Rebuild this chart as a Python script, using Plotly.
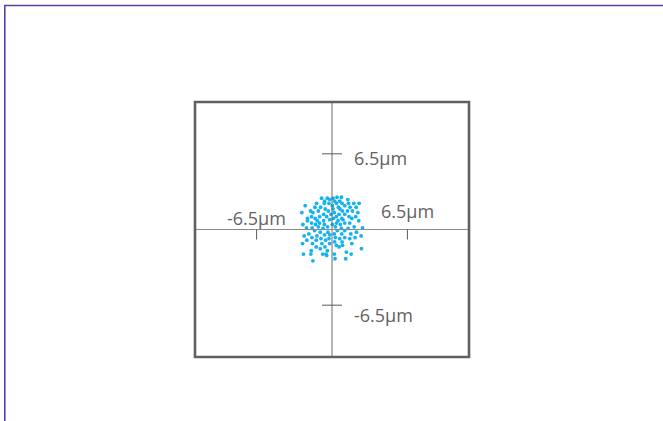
import plotly.graph_objects as go

# Spot diagram data (micrometres)
spot_x = [0.43, 0.81,
          -0.90, -0.40, 0.09,
          -0.20, 1.36,
          -0.64, 0.23, 0.66,
          -1.33, -0.66, -0.26, 0.38, 0.87, 1.42, 1.88, 2.34,
          -2.31, 0.03, 1.10,
          -1.47, -0.98, 0.55, 1.56, 2.08,
          -0.58, 0.09, 0.69,
          -1.85, -1.18, -0.32, 0.90, 1.33, 1.76,
          -2.60, -1.65, 0.20, 2.23,
          -0.72, -0.09, 0.61, 1.10,
          -1.76, -1.07, -0.46, 0.38, 1.47, 2.05,
          -2.11, -1.45, 0.12, 0.84, 1.71,
          -0.20, 0.95,
          -2.11, -1.27, -0.72, 0.52, 2.31,
          -1.76, -1.07, 0.38, 1.10, 1.53,
          -2.51, -1.42, -0.66, 0.03, 0.72,
          -1.18, -0.38, 0.29, 1.91,
          -2.20, -1.71, 2.63,
          -0.78, 0.81, 1.39,
          -1.50, 0.46, 1.10,
          -1.01, -0.35, 2.11,
          -1.99, 0.20, 0.84, 1.62,
          -0.64, -0.20,
          -2.40, -1.30, 2.51,
          -1.73, 0.29, 1.10, 1.99,
          -0.95, -0.26, 0.66, 1.53,
          -2.17, -1.36, -0.55,
          0.23, 0.87,
          -2.54, -1.68, -0.87, -0.20, 1.71,
          0.38, 0.90,
          -1.36, -0.61, 0.61,
          -1.01, 2.54,
          -1.79, -0.40,
          1.24,
          -2.46, -1.82, -0.81, -0.52, 0.20, 1.65,
          -0.46,
          0.26, 1.18,
          -1.65]
spot_y = [2.77, 2.77,
          2.69, 2.69, 2.69,
          2.57, 2.57,
          2.43, 2.43, 2.43,
          2.25, 2.25, 2.25, 2.25, 2.25, 2.25, 2.25, 2.25,
          2.05, 2.05, 2.05,
          1.91, 1.91, 1.91, 1.91, 1.91,
          1.76, 1.76, 1.76,
          1.59, 1.59, 1.59, 1.59, 1.59, 1.59,
          1.45, 1.45, 1.45, 1.45,
          1.30, 1.30, 1.30, 1.30,
          1.10, 1.10, 1.10, 1.10, 1.10, 1.10,
          0.95, 0.95, 0.95, 0.95, 0.95,
          0.84, 0.84,
          0.75, 0.75, 0.75, 0.75, 0.75,
          0.55, 0.55, 0.55, 0.55, 0.55,
          0.43, 0.43, 0.43, 0.43, 0.43,
          0.23, 0.23, 0.23, 0.23,
          0.14, 0.14, 0.14,
          0.09, 0.09, 0.09,
          -0.09, -0.09, -0.09,
          -0.23, -0.23, -0.23,
          -0.38, -0.38, -0.38, -0.38,
          -0.46, -0.46,
          -0.55, -0.55, -0.55,
          -0.69, -0.69, -0.69, -0.69,
          -0.78, -0.78, -0.78, -0.78,
          -0.92, -0.92, -0.92,
          -1.07, -1.07,
          -1.21, -1.21, -1.21, -1.21, -1.21,
          -1.36, -1.36,
          -1.50, -1.50, -1.50,
          -1.65, -1.65,
          -1.82, -1.82,
          -1.94,
          -2.11, -2.11, -2.11, -2.11, -2.11, -2.11,
          -2.23,
          -2.51, -2.51,
          -2.69]

tick_values = [-6.5, 6.5]
tick_labels = ["-6.5µm", "6.5µm"]

x_half = 11.81
y_half = 10.95

fig = go.Figure()
fig.add_trace(go.Scatter(
    x=spot_x, y=spot_y, mode="markers",
    marker=dict(size=3.8, color="#14b2f0", line=dict(width=0)),
    hoverinfo="skip", showlegend=False,
))

shapes = []
# outer purple border (top/left visible)
shapes.append(dict(type="rect", xref="paper", yref="paper",
                   x0=(4.8 - 195) / 274, x1=2.0, y0=-1.0, y1=(357 - 5.5) / 255,
                   line=dict(color="#5b3ea0", width=1.6), fillcolor="rgba(0,0,0,0)", layer="below"))
# crosshair
shapes.append(dict(type="line", xref="x", yref="paper", x0=0, x1=0, y0=0, y1=1,
                   line=dict(color="#6a6a6a", width=1)))
shapes.append(dict(type="line", xref="paper", yref="y", x0=0, x1=1, y0=0, y1=0,
                   line=dict(color="#8a8a8a", width=1)))
# tick marks
for v in tick_values:
    shapes.append(dict(type="line", xref="x", yref="y", xsizemode="pixel", xanchor=0,
                       x0=-10, x1=10, y0=v, y1=v, line=dict(color="#5a5a5a", width=1)))
    shapes.append(dict(type="line", xref="x", yref="y", ysizemode="pixel", yanchor=0,
                       x0=v, x1=v, y0=-10, y1=0, line=dict(color="#5a5a5a", width=1)))
# frame
shapes.append(dict(type="rect", xref="paper", yref="paper", x0=0, x1=1, y0=0, y1=1,
                   line=dict(color="#5f6062", width=2.6), fillcolor="rgba(0,0,0,0)"))

font = dict(family="Open Sans", size=18, color="#626262")
annotations = []
# x-axis tick labels
x_label_shift = {-6.5: 12, 6.5: 19}
for v, t in zip(tick_values, tick_labels):
    annotations.append(dict(x=v, y=0, xref="x", yref="y", text=t, showarrow=False,
                            xanchor="center", yanchor="middle", yshift=x_label_shift[v], font=font))
# y-axis tick labels
y_label_shift = {-6.5: -10, 6.5: -4}
for v, t in zip(tick_values, tick_labels):
    annotations.append(dict(x=0, y=v, xref="x", yref="y", text=t, showarrow=False,
                            xanchor="left", yanchor="middle", xshift=20,
                            yshift=y_label_shift[v], font=font))

fig.update_layout(
    width=663, height=421,
    margin=dict(l=195, r=194, t=102, b=64),
    paper_bgcolor="white", plot_bgcolor="white",
    xaxis=dict(range=[-x_half, x_half], visible=False, fixedrange=True),
    yaxis=dict(range=[-y_half, y_half], visible=False, fixedrange=True),
    shapes=shapes, annotations=annotations, showlegend=False,
)

fig.write_html("out.html", config={"displayModeBar": False},
               post_script="document.body.style.margin='0px';document.body.style.overflow='hidden';")
